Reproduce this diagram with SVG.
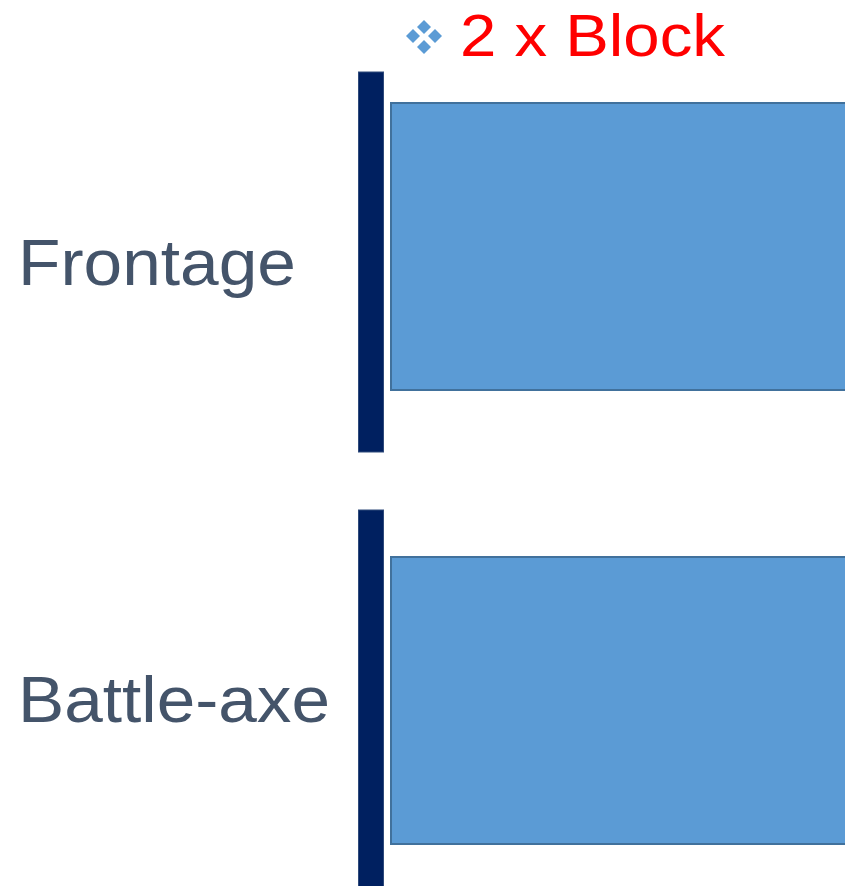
<svg xmlns="http://www.w3.org/2000/svg" width="845" height="886" viewBox="0 0 845 886">
<style>
.bar{fill:#002060;stroke:#2f4a7a;stroke-width:1}
.box{fill:#5b9bd5;stroke:#41719c;stroke-width:2}
.lbl{font-family:"Liberation Sans",Arial,sans-serif;font-size:64px;fill:#44546a}
.ttl{font-family:"Liberation Sans",Arial,sans-serif;font-size:60px;fill:#ff0000}
.dia{fill:#5b9bd5}
</style>
<rect width="845" height="886" fill="#ffffff"/>
<g id="title">
<g class="dia">
<polygon points="413,29 420,36 413,43 406,36"/>
<polygon points="424,20 431,27 424,34 417,27"/>
<polygon points="435,29 442,36 435,43 428,36"/>
<polygon points="424,40 431,47 424,54 417,47"/>
</g>
<text class="ttl" x="460" y="56" textLength="265" lengthAdjust="spacingAndGlyphs">2 x Block</text>
</g>
<g id="frontage">
<rect class="bar" x="358.5" y="72" width="25" height="380"/>
<rect class="box" x="391" y="103" width="456" height="287"/>
<text class="lbl" x="18" y="285" textLength="278" lengthAdjust="spacingAndGlyphs">Frontage</text>
</g>
<g id="battleaxe">
<rect class="bar" x="358.5" y="510" width="25" height="380"/>
<rect class="box" x="391" y="557" width="456" height="287"/>
<text class="lbl" x="18" y="722" textLength="312" lengthAdjust="spacingAndGlyphs">Battle-axe</text>
</g>
<g id="connectors"/>
</svg>
